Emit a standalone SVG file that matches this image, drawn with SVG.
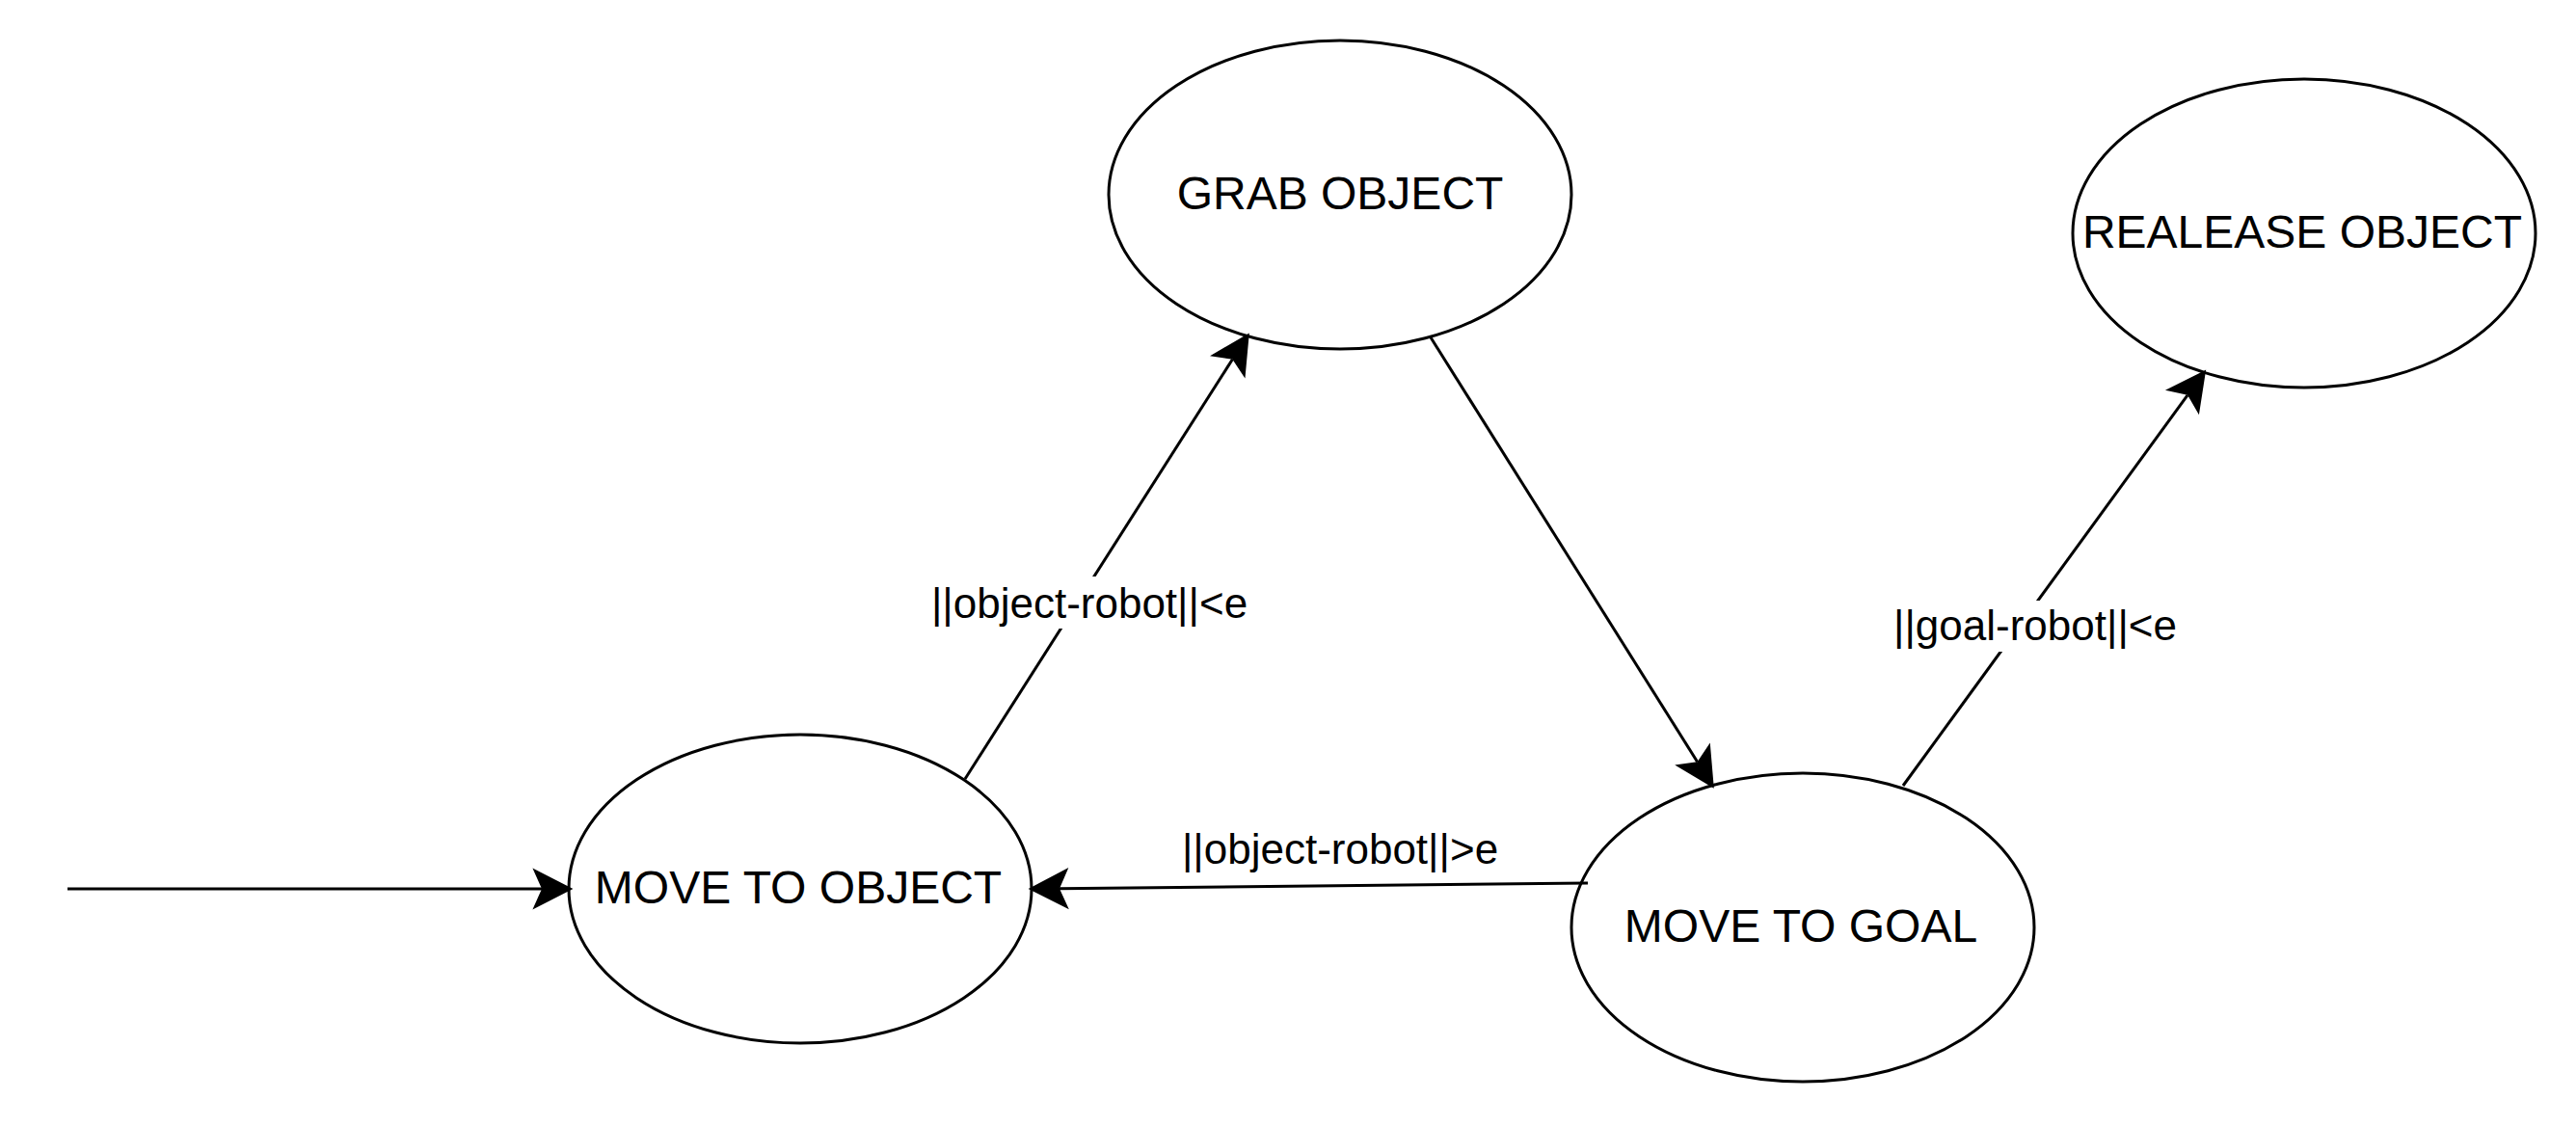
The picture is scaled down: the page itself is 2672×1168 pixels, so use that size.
<svg xmlns="http://www.w3.org/2000/svg" width="2672" height="1168" viewBox="0 0 2672 1168">
<style>
.node ellipse{fill:#fff;stroke:#000;stroke-width:3}
.ntext{font-family:"Liberation Sans",Arial,sans-serif;font-size:48px;fill:#000;text-anchor:middle}
.edge{fill:none;stroke:#000;stroke-width:3}
.ltext{font-family:"Liberation Sans",Arial,sans-serif;font-size:44px;fill:#000;text-anchor:middle}
.lbg{fill:#fff}
</style>
<defs>
<marker id="arr" markerUnits="userSpaceOnUse" markerWidth="60" markerHeight="60" viewBox="-10 -25 40 50" refX="0" refY="0" orient="auto">
<path d="M27,0 L-8,-18 L0,0 L-8,18 Z" fill="#000"/>
</marker>
</defs>
<rect width="2672" height="1168" fill="#fff"/>
<g id="nodes">
<g id="grab-object" class="node"><ellipse cx="1390" cy="202" rx="240" ry="160"/><text class="ntext" x="1390" y="217">GRAB OBJECT</text></g>
<g id="release-object" class="node"><ellipse cx="2390" cy="242" rx="240" ry="160"/><text class="ntext" x="2388" y="257">REALEASE OBJECT</text></g>
<g id="move-to-object" class="node"><ellipse cx="830" cy="922" rx="240" ry="160"/><text class="ntext" x="828" y="937">MOVE TO OBJECT</text></g>
<g id="move-to-goal" class="node"><ellipse cx="1870" cy="962" rx="240" ry="160"/><text class="ntext" x="1868" y="977">MOVE TO GOAL</text></g>
</g>
<g id="connectors">
<line class="edge" x1="70" y1="922" x2="562" y2="922" marker-end="url(#arr)"/>
<line class="edge" x1="1001" y1="808" x2="1278.4" y2="372.7" marker-end="url(#arr)"/>
<line class="edge" x1="1484" y1="350" x2="1760.6" y2="790.2" marker-end="url(#arr)"/>
<line class="edge" x1="1647" y1="916" x2="1099" y2="921.7" marker-end="url(#arr)"/>
<line class="edge" x1="1974" y1="815" x2="2269.1" y2="409.8" marker-end="url(#arr)"/>
<rect class="lbg" x="962" y="598" width="336" height="54"/>
<text class="ltext" x="1130" y="641">||object-robot||&lt;e</text>
<rect class="lbg" x="1960" y="623" width="302" height="53"/>
<text class="ltext" x="2111" y="664">||goal-robot||&lt;e</text>
<text class="ltext" x="1390" y="896">||object-robot||&gt;e</text>
</g>
</svg>
